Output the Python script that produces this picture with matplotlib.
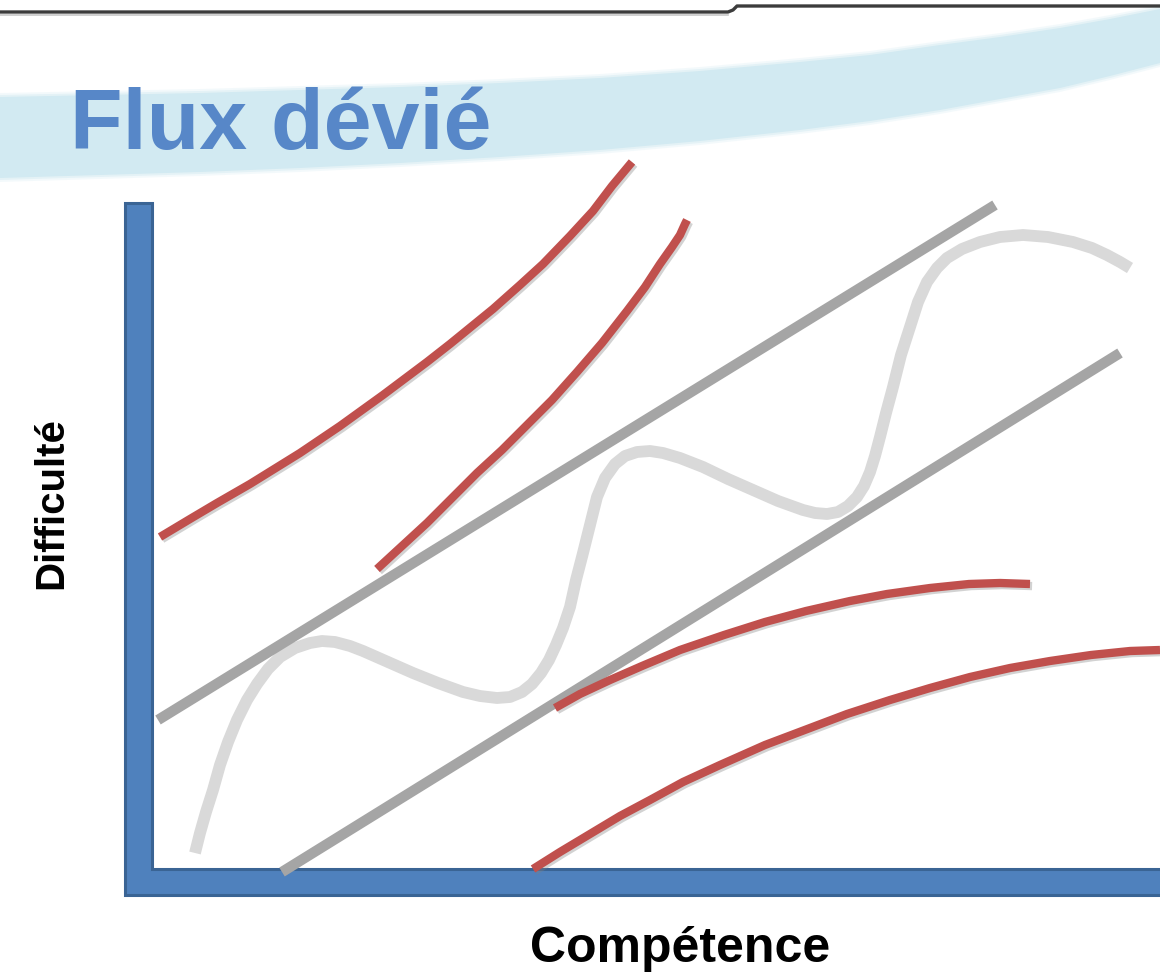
import matplotlib
matplotlib.use("Agg")
import matplotlib.pyplot as plt
from matplotlib.patches import Polygon
import matplotlib.patheffects as pe

# ---------------------------------------------------------------------------
# Data (slide pixel coordinates, y grows downward)
# ---------------------------------------------------------------------------

title = "Flux dévié"
x_label = "Compétence"
y_label = "Difficulté"

# light blue swoosh behind the title
swoosh_x = [0, 100, 200, 300, 400, 500, 600, 700, 800, 870, 940, 1000,
            1060, 1110, 1160]
swoosh_top = [97, 95, 93, 90, 87, 83, 78, 71, 62, 55, 45, 37, 28, 19, 9]
swoosh_bottom = [178, 175, 172, 168, 163, 157, 150, 141, 130, 121, 110, 99,
                 88, 76, 63]

# red curves (outside of the flow channel)
red1_x = [160, 190, 217, 250, 300, 340, 383, 427, 450, 493, 520, 543, 570,
          593, 612, 632]
red1_y = [537, 519, 503, 484, 453, 426, 395, 362, 344, 309, 285, 264, 236,
          211, 186, 162]
red2_x = [377, 402, 427, 452, 477, 502, 527, 552, 577, 602, 627, 645, 660,
          672, 680, 685, 687]
red2_y = [569, 546, 523, 498, 473, 450, 425, 400, 372, 343, 311, 287, 264,
          247, 235, 224, 220]
red3_x = [555, 580, 610, 642, 680, 724, 765, 806, 850, 887, 930, 969, 1000,
          1030]
red3_y = [708, 694, 680, 666, 650, 635, 622, 611, 601, 594, 588, 584, 583,
          584]
red4_x = [533, 560, 590, 620, 650, 683, 720, 765, 810, 847, 890, 930, 970,
          1010, 1050, 1091, 1130, 1160]
red4_y = [869, 852, 834, 816, 800, 782, 765, 745, 728, 714, 700, 688, 677,
          668, 661, 655, 651, 650]

# straight gray channel borders
gray1_x = [158, 995]
gray1_y = [720, 205]
gray2_x = [282, 1120]
gray2_y = [872, 353]

# light gray wave (the deviated flow)
wave_x = [195, 200, 206, 213, 220, 228, 237, 247, 257, 268, 280, 295, 310,
          322, 335, 350, 363, 388, 413, 438, 463, 480, 497, 510, 522, 532,
          541, 549, 556, 563, 570, 576, 583, 590, 597, 605, 615, 625, 637,
          650, 663, 680, 703, 728, 753, 778, 803, 815, 827, 838, 848, 857,
          864, 870, 875, 880, 886, 893, 901, 910, 918, 927, 937, 947, 962,
          980, 1000, 1023, 1048, 1073, 1092, 1107, 1120, 1130]
wave_y = [853, 833, 812, 790, 765, 742, 720, 700, 684, 669, 657, 648, 643,
          641, 642, 646, 651, 662, 673, 683, 692, 696, 698, 697, 692, 684,
          673, 660, 645, 628, 607, 580, 553, 525, 497, 478, 464, 456, 452,
          451, 453, 458, 467, 479, 490, 501, 510, 513, 514, 512, 506, 497,
          486, 472, 456, 437, 413, 387, 355, 327, 302, 282, 268, 258, 249,
          242, 237, 235, 237, 242, 248, 255, 262, 268]

# ---------------------------------------------------------------------------
# Styles
# ---------------------------------------------------------------------------

RED = "#c0504d"
GRAY = "#a5a5a5"
LIGHT_GRAY = "#d9d9d9"
BLUE = "#4f81bd"
BLUE_EDGE = "#3a6494"
TITLE_BLUE = "#5787c8"
SWOOSH = "#d2eaf2"

plt.rcParams["font.family"] = ["Liberation Sans", "DejaVu Sans"]

fig = plt.figure(figsize=(11.6, 9.73), dpi=100)
ax = fig.add_axes([0, 0, 1, 1])
ax.set_xlim(0, 1160)
ax.set_ylim(973, 0)
ax.axis("off")

# top rule with a small step
ax.plot([0, 728, 733, 737, 1160], [12, 12, 10, 6, 6],
        color="#3c3c3c", lw=2.4, solid_capstyle="butt", zorder=3)
ax.plot([0, 728], [15, 15], color="#c8c8c8", lw=1.2, zorder=2)

# swoosh, with a soft edge
for grow, alpha in [(4, 0.25), (2, 0.45), (0, 1.0)]:
    ax.fill_between(swoosh_x, [t - grow for t in swoosh_top],
                    [b + grow for b in swoosh_bottom],
                    color=SWOOSH, alpha=alpha, lw=0, zorder=1)

ax.text(70, 149, title, fontsize=62, fontweight="bold", color=TITLE_BLUE,
        ha="left", va="baseline", zorder=4)

# L-shaped axes
axes_shape = Polygon([(125, 203), (152, 203), (152, 869), (1170, 869),
                      (1170, 895), (125, 895)], closed=True,
                     facecolor=BLUE, edgecolor=BLUE_EDGE, lw=2.2, zorder=2)
ax.add_patch(axes_shape)

ax.text(680, 962, x_label, fontsize=36, fontweight="bold", color="black",
        ha="center", va="baseline")
ax.text(51, 503, y_label, fontsize=29, fontweight="bold", color="black",
        ha="center", va="center", rotation=90)

shadow = [pe.SimpleLineShadow(offset=(1.5, -1.5), shadow_color="gray",
                              alpha=0.35), pe.Normal()]

ax.plot(wave_x, wave_y, color=LIGHT_GRAY, lw=8.5, solid_capstyle="butt",
        solid_joinstyle="round", zorder=3)
ax.plot(gray1_x, gray1_y, color=GRAY, lw=7.5, solid_capstyle="butt", zorder=4)
ax.plot(gray2_x, gray2_y, color=GRAY, lw=7.5, solid_capstyle="butt", zorder=4)

for xs, ys in [(red1_x, red1_y), (red2_x, red2_y),
               (red3_x, red3_y), (red4_x, red4_y)]:
    ax.plot(xs, ys, color=RED, lw=6, solid_capstyle="butt",
            solid_joinstyle="round", path_effects=shadow, zorder=5)

fig.savefig("out.png", dpi=100)
plt.close(fig)
